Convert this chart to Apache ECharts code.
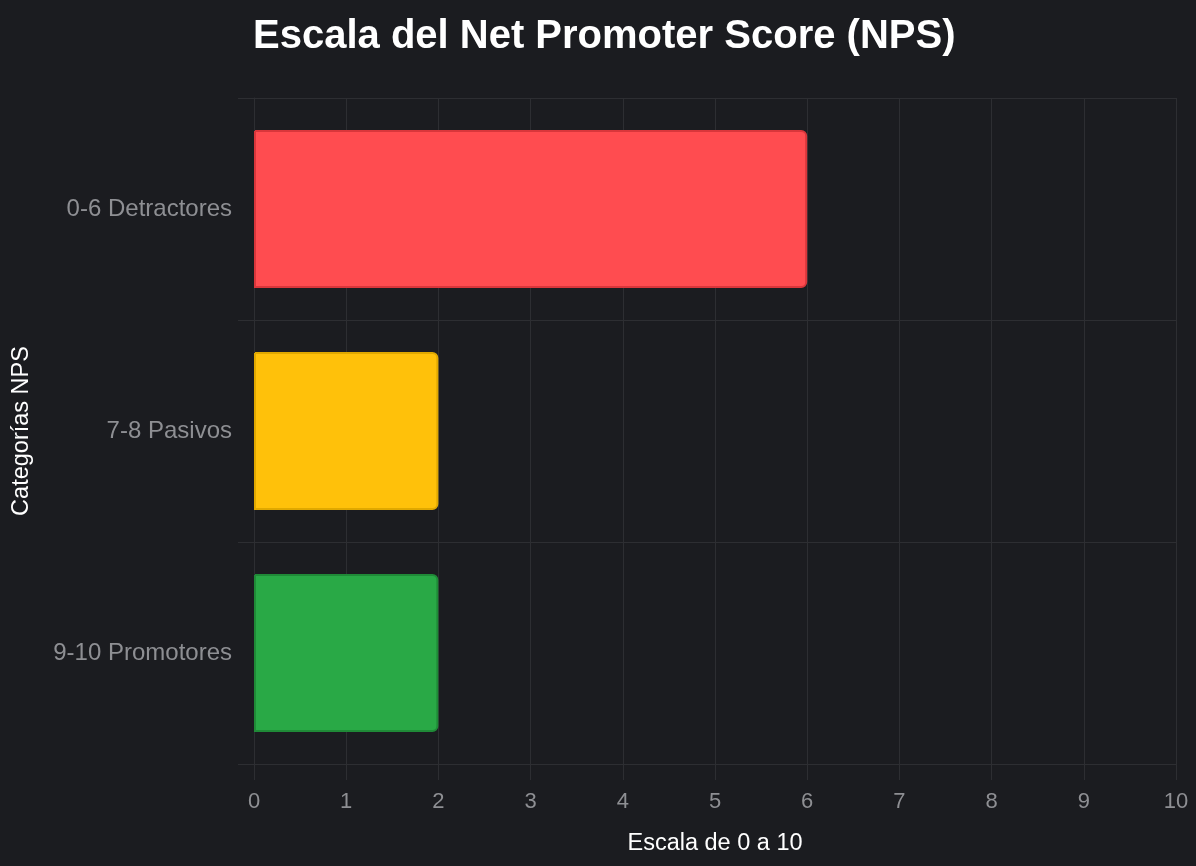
<!DOCTYPE html>
<html>
<head>
<meta charset="utf-8">
<script src="https://cdn.jsdelivr.net/npm/echarts@6/dist/echarts.min.js"></script>
<style>
  html, body { margin: 0; padding: 0; background: #1b1c20; }
  #chart { width: 1196px; height: 866px; }
</style>
</head>
<body>
<div id="chart"></div>
<script>
// datos del gráfico
var categories = ['0-6 Detractores', '7-8 Pasivos', '9-10 Promotores'];
var values = [6, 2, 2];
var fillColors = ['#ff4c50', '#ffc10a', '#29a946'];
var borderColors = ['#d9363b', '#e0a800', '#1f8a37'];

var gridColor = '#2d2e32';
var labelColor = '#8e8f93';
var font = '"Liberation Sans", Arial, Helvetica, sans-serif';

var chart = echarts.init(document.getElementById('chart'));

var barData = values.map(function (v, i) {
    return {
        value: v,
        itemStyle: {
            color: fillColors[i],
            borderColor: borderColors[i],
            borderWidth: 2,
            borderRadius: [0, 5, 5, 0]
        }
    };
});

var option = {
    backgroundColor: '#1b1c20',
    animation: false,
    title: {
        text: 'Escala del Net Promoter Score (NPS)',
        left: 248,
        top: 12,
        textStyle: {
            color: '#ffffff',
            fontSize: 40,
            fontWeight: 'bold',
            fontFamily: font
        }
    },
    grid: {
        left: 254,
        right: 20,
        top: 98,
        bottom: 102,
        containLabel: false
    },
    xAxis: {
        type: 'value',
        min: 0,
        max: 10,
        interval: 1,
        name: 'Escala de 0 a 10',
        nameLocation: 'middle',
        nameGap: 68,
        nameTextStyle: { color: '#ffffff', fontSize: 23.5, fontFamily: font },
        axisLine: { show: true, lineStyle: { color: gridColor, width: 1 } },
        axisTick: { show: true, length: 16, lineStyle: { color: gridColor } },
        axisLabel: { color: labelColor, fontSize: 22, margin: 27, fontFamily: font },
        splitLine: { show: true, lineStyle: { color: gridColor, width: 1 } }
    },
    yAxis: {
        type: 'category',
        inverse: true,
        data: categories,
        name: 'Categorías NPS',
        nameLocation: 'middle',
        nameRotate: 90,
        nameGap: 220,
        nameTextStyle: { color: '#ffffff', fontSize: 23.5, fontFamily: font },
        axisLine: { show: true, lineStyle: { color: gridColor, width: 1 } },
        axisTick: { show: true, length: 16, lineStyle: { color: gridColor } },
        axisLabel: { color: labelColor, fontSize: 24, margin: 22, fontFamily: font },
        splitLine: { show: true, lineStyle: { color: gridColor, width: 1 } }
    },
    series: [{
        type: 'bar',
        data: barData,
        barWidth: 158
    }]
};

chart.setOption(option);
</script>
</body>
</html>
